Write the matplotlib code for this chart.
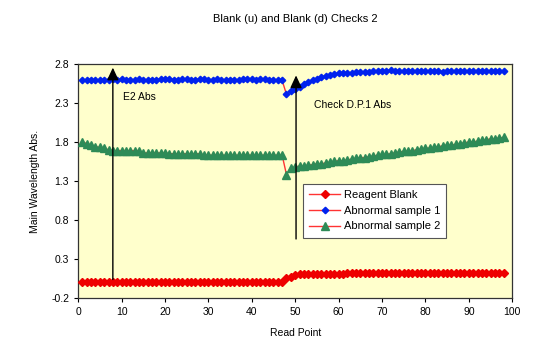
import matplotlib
matplotlib.use("Agg")
import matplotlib.pyplot as plt

plt.rcParams['font.family'] = ['Liberation Sans', 'DejaVu Sans']

read_points = list(range(1, 99))

reagent_blank = [
    0.00, 0.00, 0.00, 0.00, 0.00, 0.00, 0.00, 0.00, 0.00, 0.00,
    0.00, 0.00, 0.00, 0.00, 0.00, 0.00, 0.00, 0.00, 0.00, 0.00,
    0.00, 0.00, 0.00, 0.00, 0.00, 0.00, 0.00, 0.00, 0.00, 0.00,
    0.00, 0.00, 0.00, 0.00, 0.00, 0.00, 0.00, 0.00, 0.00, 0.00,
    0.00, 0.00, 0.00, 0.00, 0.00, 0.00, 0.00,
    0.05, 0.07, 0.09, 0.10, 0.10, 0.11, 0.11, 0.11, 0.11, 0.11,
    0.11, 0.11, 0.11, 0.11, 0.12, 0.12, 0.12, 0.12, 0.12, 0.12,
    0.12, 0.12, 0.12, 0.12, 0.12, 0.12, 0.12, 0.12, 0.12, 0.12,
    0.12, 0.12, 0.12, 0.12, 0.12, 0.12, 0.12, 0.12, 0.12, 0.12,
    0.12, 0.12, 0.12, 0.12, 0.12, 0.12, 0.12, 0.12, 0.12, 0.12,
    0.12,
]

abnormal_1 = [
    2.59, 2.59, 2.60, 2.60, 2.60, 2.60, 2.60, 2.61, 2.60, 2.61,
    2.60, 2.60, 2.60, 2.61, 2.60, 2.60, 2.60, 2.60, 2.61, 2.61,
    2.61, 2.60, 2.60, 2.61, 2.61, 2.60, 2.60, 2.61, 2.61, 2.60,
    2.60, 2.61, 2.60, 2.60, 2.60, 2.60, 2.60, 2.61, 2.61, 2.61,
    2.60, 2.61, 2.61, 2.60, 2.60, 2.59, 2.59,
    2.41, 2.45, 2.48, 2.51, 2.54, 2.57, 2.59, 2.61, 2.63, 2.65,
    2.66, 2.67, 2.68, 2.68, 2.69, 2.69, 2.70, 2.70, 2.70, 2.70,
    2.71, 2.71, 2.71, 2.71, 2.72, 2.71, 2.71, 2.71, 2.71, 2.71,
    2.71, 2.71, 2.71, 2.71, 2.71, 2.71, 2.70, 2.71, 2.71, 2.71,
    2.71, 2.71, 2.71, 2.71, 2.71, 2.71, 2.71, 2.71, 2.71, 2.71,
    2.71,
]

abnormal_2 = [
    1.80, 1.78, 1.76, 1.74, 1.73, 1.72, 1.70, 1.69, 1.69, 1.69,
    1.69, 1.69, 1.69, 1.69, 1.66, 1.66, 1.66, 1.66, 1.66, 1.66,
    1.65, 1.65, 1.65, 1.65, 1.65, 1.65, 1.65, 1.65, 1.63, 1.63,
    1.63, 1.63, 1.63, 1.63, 1.63, 1.63, 1.63, 1.63, 1.63, 1.63,
    1.63, 1.63, 1.63, 1.63, 1.63, 1.63, 1.63,
    1.38,
    1.47, 1.48, 1.49, 1.49, 1.50, 1.51, 1.52, 1.52, 1.53, 1.54,
    1.55, 1.56, 1.56, 1.57, 1.58, 1.59, 1.60, 1.60, 1.61, 1.62,
    1.63, 1.64, 1.64, 1.65, 1.66, 1.67, 1.68, 1.68, 1.69, 1.70,
    1.71, 1.72, 1.72, 1.73, 1.74, 1.75, 1.76, 1.76, 1.77, 1.78,
    1.79, 1.80, 1.80, 1.81, 1.82, 1.83, 1.84, 1.84, 1.85, 1.86,
]

y_ticks = [-0.2, 0.3, 0.8, 1.3, 1.8, 2.3, 2.8]
x_ticks = [0, 10, 20, 30, 40, 50, 60, 70, 80, 90, 100]

fig = plt.figure(figsize=(5.58, 3.58), dpi=100)
ax = fig.add_axes([0.140, 0.168, 0.778, 0.653])
ax.set_facecolor('#FFFFCC')

line_c = '#FF3333'
ax.plot(read_points, reagent_blank, color=line_c, lw=1.0, marker='D',
        ms=4.0, mfc='#EE0000', mec='#EE0000', label='Reagent Blank', zorder=3)
ax.plot(read_points, abnormal_1, color=line_c, lw=1.0, marker='D',
        ms=3.3, mfc='#0022EE', mec='#0022EE', label='Abnormal sample 1', zorder=3)
ax.plot(read_points, abnormal_2, color=line_c, lw=1.0, marker='^',
        ms=5.2, mfc='#2E8B57', mec='#2E8B57', label='Abnormal sample 2', zorder=3)

arrow_kw = dict(arrowstyle='-|>,head_width=0.35,head_length=0.75', color='black', lw=1.0)
ax.annotate('', xy=(8, 2.79), xytext=(8, 0.0), arrowprops=arrow_kw, zorder=4)
ax.annotate('', xy=(50.2, 2.69), xytext=(50.2, 0.52), arrowprops=arrow_kw, zorder=4)
ax.text(10.4, 2.38, 'E2 Abs', fontsize=7.5, va='center', ha='left')
ax.text(54.4, 2.27, 'Check D.P.1 Abs', fontsize=7.5, va='center', ha='left')

ax.set_xlim(0, 100)
ax.set_ylim(-0.2, 2.8)
ax.set_xticks(x_ticks)
ax.set_yticks(y_ticks)
ax.set_yticklabels([f'{v:.1f}' for v in y_ticks])
ax.tick_params(labelsize=7.5, direction='out', length=3, width=0.8)
for s in ax.spines.values():
    s.set_linewidth(0.9)
    s.set_color('#333333')

ax.set_xlabel('Read Point', fontsize=7.5, labelpad=8)
ax.set_ylabel('Main Wavelength Abs.', fontsize=7.5, labelpad=8)
fig.text(0.529, 0.948, 'Blank (u) and Blank (d) Checks 2',
         fontsize=8, ha='center', va='center')

leg = ax.legend(loc='lower left', bbox_to_anchor=(0.518, 0.258), fontsize=8,
                frameon=True, fancybox=False, borderpad=0.55, labelspacing=0.5,
                handlelength=2.8, handletextpad=0.3, borderaxespad=0)
leg.get_frame().set_edgecolor('#555555')
leg.get_frame().set_linewidth(0.8)
leg.get_frame().set_facecolor('white')
leg.get_frame().set_alpha(1)

fig.savefig('out.png', dpi=100)
